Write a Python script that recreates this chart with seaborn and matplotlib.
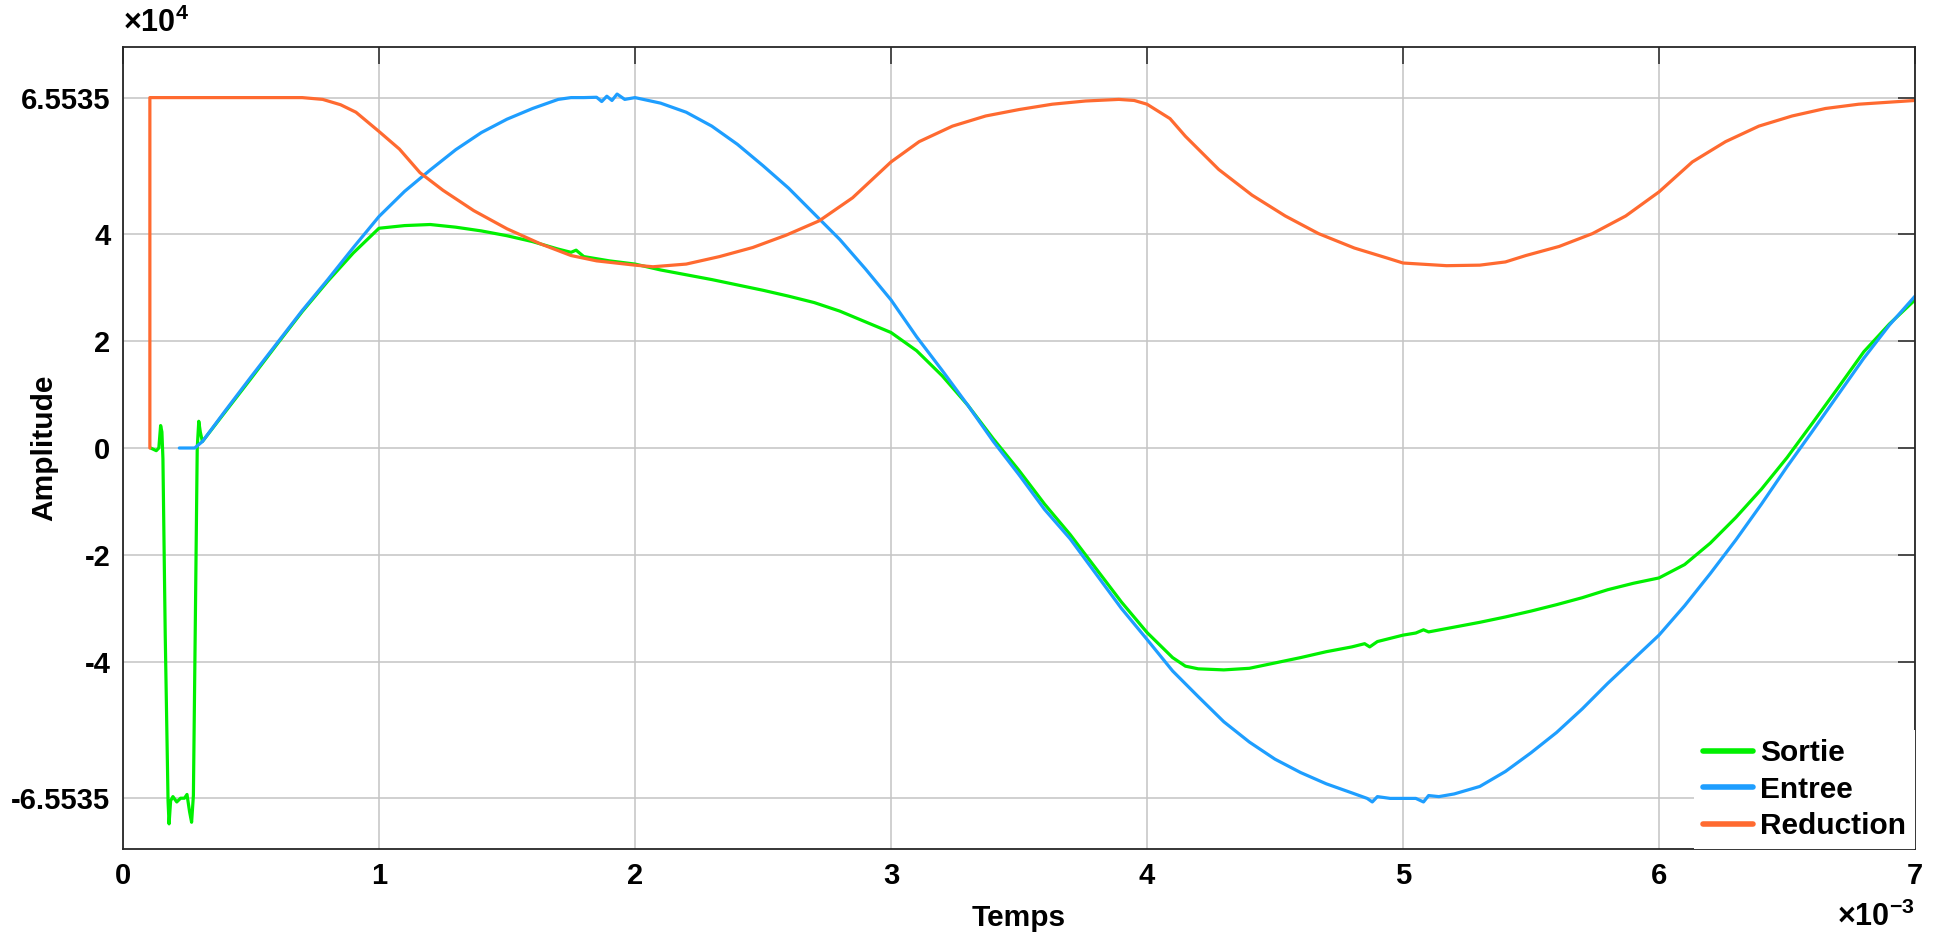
import numpy as np
import matplotlib
matplotlib.use('Agg')
import matplotlib.pyplot as plt
import seaborn as sns

# values; time in ms, amplitude in units of 1e4
t_sortie = [0.108, 0.13, 0.14, 0.147, 0.152, 0.156, 0.165, 0.176, 0.18, 0.186,
            0.195, 0.21, 0.225, 0.24, 0.25, 0.26, 0.268, 0.275, 0.282, 0.29,
            0.296, 0.302, 0.31, 0.40, 0.50, 0.60, 0.70, 0.80, 0.90, 1.00,
            1.10, 1.20, 1.30, 1.40, 1.50, 1.60, 1.70, 1.75, 1.77, 1.80, 1.90,
            2.00, 2.10, 2.20, 2.30, 2.40, 2.50, 2.60, 2.70, 2.80, 2.90, 3.00,
            3.10, 3.20, 3.30, 3.40, 3.50, 3.60, 3.70, 3.80, 3.90, 4.00, 4.10,
            4.15, 4.20, 4.30, 4.40, 4.50, 4.60, 4.70, 4.80, 4.85, 4.87, 4.90,
            5.00, 5.05, 5.08, 5.10, 5.20, 5.30, 5.40, 5.50, 5.60, 5.70, 5.80,
            5.90, 6.00, 6.10, 6.20, 6.30, 6.40, 6.50, 6.60, 6.70, 6.80, 6.90,
            7.00]
v_sortie = [0.0, -0.05, 0.0, 0.42, 0.3, -0.2, -3.5, -6.6, -7.03, -6.6,
            -6.52, -6.62, -6.55, -6.55, -6.48, -6.8, -7.0, -6.5, -3.5, 0.0,
            0.5, 0.3, 0.12, 0.68, 1.30, 1.93, 2.55, 3.12, 3.65, 4.11,
            4.16, 4.18, 4.13, 4.06, 3.97, 3.86, 3.72, 3.66, 3.70, 3.58, 3.50,
            3.44, 3.33, 3.24, 3.15, 3.05, 2.95, 2.84, 2.72, 2.56, 2.36, 2.16,
            1.82, 1.35, 0.80, 0.17, -0.42, -1.05, -1.62, -2.25, -2.88, -3.45, -3.92,
            -4.08, -4.13, -4.15, -4.12, -4.02, -3.92, -3.81, -3.72, -3.66, -3.72, -3.62,
            -3.50, -3.46, -3.40, -3.44, -3.35, -3.26, -3.16, -3.05, -2.93, -2.80, -2.65,
            -2.53, -2.43, -2.18, -1.78, -1.30, -0.77, -0.18, 0.47, 1.13, 1.80, 2.32,
            2.77]

t_entree = [0.22, 0.28, 0.31, 0.40, 0.50, 0.60, 0.70, 0.80, 0.90, 1.00,
            1.10, 1.20, 1.30, 1.40, 1.50, 1.60, 1.70, 1.75, 1.80, 1.85,
            1.87, 1.89, 1.91, 1.93, 1.96, 2.00, 2.10, 2.20, 2.30, 2.40,
            2.50, 2.60, 2.70, 2.80, 2.90, 3.00, 3.10, 3.20, 3.30, 3.40,
            3.50, 3.60, 3.70, 3.80, 3.90, 4.00, 4.10, 4.20, 4.30, 4.40,
            4.50, 4.60, 4.70, 4.80, 4.86, 4.88, 4.90, 4.95, 5.00, 5.05,
            5.08, 5.10, 5.14, 5.20, 5.30, 5.40, 5.50, 5.60, 5.70, 5.80,
            5.90, 6.00, 6.10, 6.20, 6.30, 6.40, 6.50, 6.60, 6.70, 6.80,
            6.90, 7.00]
v_entree = [0.0, 0.0, 0.12, 0.70, 1.33, 1.95, 2.57, 3.15, 3.75, 4.33,
            4.80, 5.20, 5.58, 5.90, 6.15, 6.35, 6.52, 6.5535, 6.5535, 6.56,
            6.48, 6.58, 6.50, 6.62, 6.52, 6.5535, 6.45, 6.28, 6.02, 5.68,
            5.28, 4.86, 4.38, 3.90, 3.35, 2.77, 2.08, 1.45, 0.80, 0.12,
            -0.50, -1.15, -1.70, -2.35, -3.00, -3.58, -4.17, -4.65, -5.12, -5.50,
            -5.82, -6.07, -6.28, -6.45, -6.5535, -6.62, -6.52, -6.5535, -6.5535, -6.5535,
            -6.62, -6.50, -6.52, -6.47, -6.33, -6.05, -5.70, -5.32, -4.88, -4.40,
            -3.95, -3.50, -2.95, -2.35, -1.72, -1.05, -0.35, 0.32, 1.00, 1.68,
            2.30, 2.84]

t_reduction = [0.105, 0.105, 0.70, 0.78, 0.85, 0.91, 1.00, 1.08, 1.16, 1.25,
               1.37, 1.50, 1.63, 1.75, 1.85, 2.00, 2.07, 2.20, 2.33, 2.46,
               2.59, 2.72, 2.85, 3.00, 3.11, 3.24, 3.37, 3.50, 3.63, 3.76,
               3.89, 3.95, 4.00, 4.09, 4.15, 4.28, 4.41, 4.54, 4.67, 4.81,
               4.94, 5.00, 5.17, 5.30, 5.40, 5.48, 5.61, 5.74, 5.87, 6.00,
               6.13, 6.26, 6.39, 6.52, 6.65, 6.78, 7.00]
v_reduction = [0.0, 6.5535, 6.5535, 6.52, 6.42, 6.28, 5.92, 5.59, 5.15, 4.82,
               4.44, 4.10, 3.82, 3.60, 3.50, 3.42, 3.39, 3.44, 3.58, 3.75,
               3.98, 4.25, 4.68, 5.35, 5.73, 6.02, 6.21, 6.33, 6.43, 6.49,
               6.52, 6.50, 6.43, 6.16, 5.83, 5.21, 4.73, 4.34, 4.01, 3.74,
               3.55, 3.46, 3.41, 3.42, 3.48, 3.60, 3.77, 4.01, 4.34, 4.79,
               5.35, 5.73, 6.02, 6.21, 6.35, 6.43, 6.50]

x_ticks = [0, 1, 2, 3, 4, 5, 6, 7]
y_ticks = [-6.5535, -4, -2, 0, 2, 4, 6.5535]
y_ticklabels = ['-6.5535', '-4', '-2', '0', '2', '4', '6.5535']

series = [('Sortie', t_sortie, v_sortie, '#00f000'),
          ('Entree', t_entree, v_entree, '#1e9eff'),
          ('Reduction', t_reduction, v_reduction, '#ff6a30')]

sns.set_style('white')
plt.rcParams['font.family'] = ['Liberation Sans', 'DejaVu Sans']
plt.rcParams['font.weight'] = 'bold'
plt.rcParams['text.color'] = 'black'
plt.rcParams['axes.labelcolor'] = 'black'
plt.rcParams['xtick.color'] = 'black'
plt.rcParams['ytick.color'] = 'black'
plt.rcParams['mathtext.fontset'] = 'custom'
plt.rcParams['mathtext.rm'] = 'Liberation Sans:bold'
plt.rcParams['mathtext.bf'] = 'Liberation Sans:bold'

fs = 21

fig = plt.figure(figsize=(19.43, 9.40), dpi=100)
ax = fig.add_axes([0.0633, 0.0968, 0.9223, 0.8532])

for name, t, v, col in series:
    sns.lineplot(x=np.array(t) * 1e-3, y=np.array(v) * 1e4, color=col, label=name,
                 linewidth=2.3, estimator=None, sort=False, ax=ax)

ax.set_xlim(0, 7e-3)
ax.set_ylim(-75000, 75000)
ax.set_xticks(np.array(x_ticks) * 1e-3)
ax.set_xticklabels([str(v) for v in x_ticks])
ax.set_yticks(np.array(y_ticks) * 1e4)
ax.set_yticklabels(y_ticklabels)

ax.grid(True, color='#c4c4c4', linewidth=1.1)
ax.set_axisbelow(True)
ax.tick_params(direction='in', length=12, width=1.1, color='#262626',
               top=True, right=True, labelsize=fs, pad=9)
for s in ax.spines.values():
    s.set_color('#262626')
    s.set_linewidth(1.3)
    s.set_visible(True)

ax.set_xlabel('Temps', fontsize=fs + 0.5, fontweight='bold')
ax.set_ylabel('Amplitude', fontsize=fs + 0.5, fontweight='bold')
ax.xaxis.set_label_coords(0.5, -0.068)
ax.yaxis.set_label_coords(-0.036, 0.5)

ax.text(0.0, 1.01, r'$\times\mathbf{10^{4}}$', transform=ax.transAxes,
        fontsize=22, ha='left', va='bottom')
ax.text(1.0, -0.066, r'$\times\mathbf{10^{-3}}$', transform=ax.transAxes,
        fontsize=22, ha='right', va='top')

leg = ax.legend(loc='lower right', borderaxespad=0, fancybox=False,
                framealpha=1, edgecolor='none', handlelength=1.65,
                handletextpad=0.25, labelspacing=0.28, borderpad=0.3,
                prop={'size': fs + 0.5, 'weight': 'bold'})
for line in leg.get_lines():
    line.set_linewidth(4)

fig.savefig('out.png', dpi=100)
